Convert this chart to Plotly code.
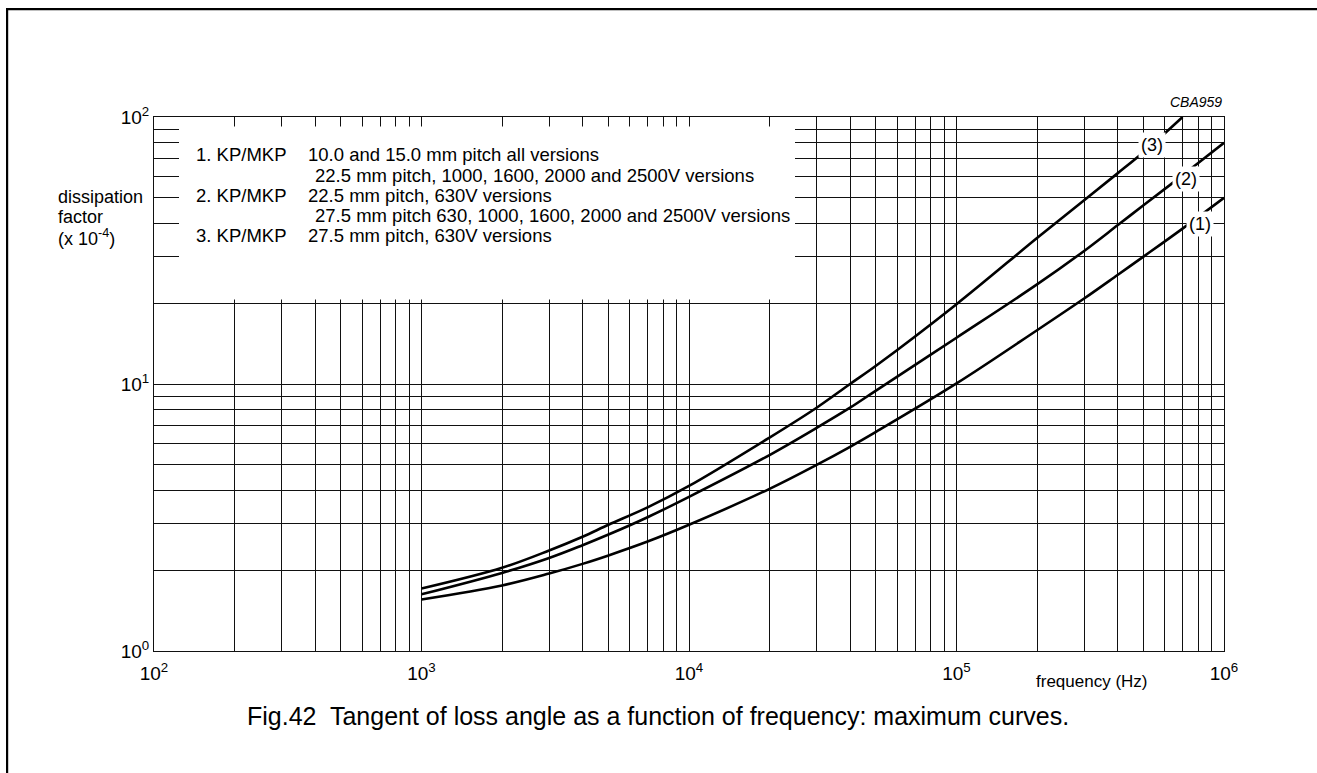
import plotly.graph_objects as go

# ---- data ----
freq = [1e3, 2e3, 3e3, 4e3, 5e3, 7e3, 1e4, 2e4, 3e4, 4e4, 5e4, 1e5, 2e5, 3e5, 4e5, 5e5, 7e5, 1e6]
curve1 = [1.56, 1.76, 1.95, 2.12, 2.28, 2.57, 2.97, 4.05, 4.98, 5.82, 6.62, 10.05, 15.9, 20.9, 25.6, 30.0, 38.2, 49.8]
curve2 = [1.63, 1.96, 2.23, 2.49, 2.73, 3.17, 3.78, 5.42, 6.85, 8.15, 9.45, 14.9, 23.6, 31.5, 39.3, 46.7, 60.5, 80.0]
freq3 = [1e3, 2e3, 3e3, 4e3, 5e3, 7e3, 1e4, 2e4, 3e4, 4e4, 5e4, 1e5, 2e5, 3e5, 4e5, 5e5, 6e5, 7e5]
curve3 = [1.714, 2.05, 2.38, 2.68, 2.97, 3.45, 4.15, 6.3, 8.15, 10.0, 11.7, 19.9, 35.2, 48.8, 61.5, 73.8, 86.8, 100.0]

curve_labels = ["(1)", "(2)", "(3)"]
x_decades = [2, 3, 4, 5, 6]
y_decades = [0, 1, 2]

legend_num = ["1. KP/MKP", "", "2. KP/MKP", "", "3. KP/MKP"]
legend_desc = [
    "10.0 and 15.0 mm pitch all versions",
    "22.5 mm pitch, 1000, 1600, 2000 and 2500V versions",
    "22.5 mm pitch, 630V versions",
    "27.5 mm pitch 630, 1000, 1600, 2000 and 2500V versions",
    "27.5 mm pitch, 630V versions",
]
y_title_lines = ["dissipation", "factor", "(x 10<sup>-4</sup>)"]
x_title = "frequency (Hz)"
caption = "Fig.42  Tangent of loss angle as a function of frequency: maximum curves."
code_label = "CBA959"

# ---- layout helpers (page pixels -> paper coords) ----
FONT = "Liberation Sans, Arial, Helvetica, sans-serif"
W, H = 1340, 790          # slightly larger than the window; the overflow is hidden
ML, MT, PW, PH = 154, 117, 1070, 534
MR = W - ML - PW
MB = H - MT - PH
PX0 = ML
PY1 = MT + PH


def px(x):
    return (x - PX0) / PW


def py(y):
    return (PY1 - y) / PH


# major ticks (labelled decades) and minor grid values
xt = [10 ** d for d in x_decades]
xtt = [f"10<sup>{d}</sup>" for d in x_decades]
xminor = [k * 10 ** d for d in x_decades[:-1] for k in range(2, 10)]
yt = [10 ** d for d in y_decades]
ytt = [f"10<sup>{d}</sup>" for d in y_decades]
yminor = [k * 10 ** d for d in y_decades[:-1] for k in range(2, 10)]

fig = go.Figure()
line_style = dict(color="black", width=2.6, shape="spline", smoothing=1.0)
fig.add_trace(go.Scatter(x=freq, y=curve1, mode="lines", line=line_style, hoverinfo="skip"))
fig.add_trace(go.Scatter(x=freq, y=curve2, mode="lines", line=line_style, hoverinfo="skip"))
fig.add_trace(go.Scatter(x=freq3, y=curve3, mode="lines", line=line_style, hoverinfo="skip"))

axis_common = dict(
    showgrid=True, gridcolor="#111", gridwidth=1,
    showline=True, linecolor="#111", linewidth=1, mirror=True,
    ticks="", zeroline=False,
    tickfont=dict(family=FONT, size=19, color="black"),
)
fig.update_xaxes(type="log", range=[2, 6], tickmode="array", tickvals=xt, ticktext=xtt,
                 ticklabelstandoff=5,
                 minor=dict(tickmode="array", tickvals=xminor, showgrid=True,
                            gridcolor="#111", gridwidth=1, ticks=""),
                 **axis_common)
fig.update_yaxes(type="log", range=[0, 2], tickmode="array", tickvals=yt, ticktext=ytt,
                 minor=dict(tickmode="array", tickvals=yminor, showgrid=True,
                            gridcolor="#111", gridwidth=1, ticks=""),
                 **axis_common)

shapes = [
    # white legend panel over the grid
    dict(type="rect", xref="paper", yref="paper", x0=px(179), x1=px(795), y0=py(299.5), y1=py(126.5),
         fillcolor="white", line=dict(width=0), layer="above"),
    # page frame: top and left edges as thin filled bars
    dict(type="rect", xref="paper", yref="paper", x0=px(6), x1=px(W), y0=py(10.2), y1=py(8),
         fillcolor="black", line=dict(width=0), layer="above"),
    dict(type="rect", xref="paper", yref="paper", x0=px(6), x1=px(8.2), y0=py(H), y1=py(8),
         fillcolor="black", line=dict(width=0), layer="above"),
]

ann = []
rows_y = [155, 175.5, 195.5, 215.5, 235.5]
for i, (n, d) in enumerate(zip(legend_num, legend_desc)):
    if n:
        ann.append(dict(text=n, x=px(194), y=py(rows_y[i]), xref="paper", yref="paper",
                        xanchor="left", yanchor="middle", showarrow=False,
                        font=dict(family=FONT, size=18.5, color="black")))
    xoff = 306 if n else 313
    ann.append(dict(text=d, x=px(xoff), y=py(rows_y[i]), xref="paper", yref="paper",
                    xanchor="left", yanchor="middle", showarrow=False,
                    font=dict(family=FONT, size=18.5, color="black")))

for i, t in enumerate(y_title_lines):
    ann.append(dict(text=t, x=px(56), y=py([197, 217, 237][i]), xref="paper", yref="paper",
                    xanchor="left", yanchor="middle", showarrow=False,
                    font=dict(family=FONT, size=18, color="black")))

ann.append(dict(text=x_title, x=px(1091), y=py(681), xref="paper", yref="paper",
                xanchor="center", yanchor="middle", showarrow=False,
                font=dict(family=FONT, size=17, color="black")))
ann.append(dict(text=caption, x=px(658), y=py(716), xref="paper", yref="paper",
                xanchor="center", yanchor="middle", showarrow=False,
                font=dict(family=FONT, size=25, color="black")))
ann.append(dict(text=code_label, x=px(1224), y=py(102), xref="paper", yref="paper",
                xanchor="right", yanchor="middle", showarrow=False,
                font=dict(family=FONT, size=14, color="black", style="italic")))

# curve labels (log-axis coordinates)
label_pos = [(5.910, 1.599), (5.857, 1.769), (5.732, 1.894)]
for t, (lx, ly) in zip(curve_labels, label_pos):
    ann.append(dict(text=t, x=lx, y=ly, xref="x", yref="y", showarrow=False,
                    bgcolor="white", borderpad=2,
                    font=dict(family=FONT, size=18, color="black")))

fig.update_layout(
    width=W, height=H,
    margin=dict(l=ML, r=MR, t=MT, b=MB, pad=0),
    plot_bgcolor="white", paper_bgcolor="white",
    showlegend=False,
    shapes=shapes, annotations=ann,
    font=dict(family=FONT, color="black"),
)

fig.write_html(
    "out.html",
    config={"displayModeBar": False},
    post_script="document.body.style.margin='0';document.body.style.overflow='hidden';",
)
